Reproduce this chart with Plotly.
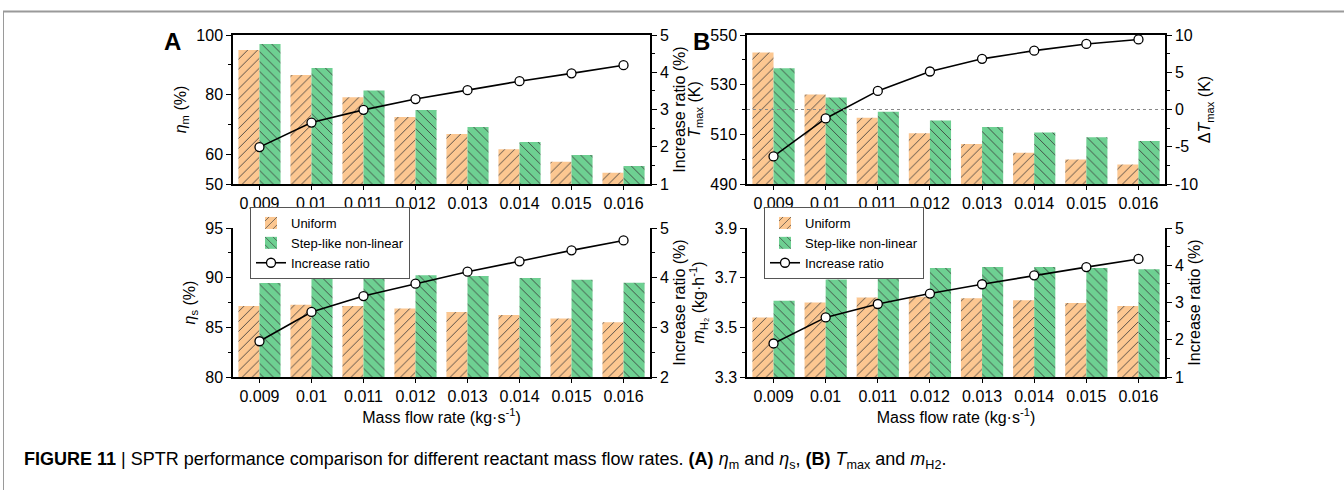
import plotly.graph_objects as go

categories = ["0.009", "0.01", "0.011", "0.012", "0.013", "0.014", "0.015", "0.016"]

# Panel A top: eta_m (%)
eta_m_uniform = [95.0, 86.6, 79.1, 72.5, 66.8, 61.7, 57.5, 53.8]
eta_m_step = [97.0, 88.9, 81.4, 74.8, 69.1, 64.1, 59.7, 56.0]
eta_m_ratio = [1.99, 2.65, 2.99, 3.28, 3.52, 3.76, 3.97, 4.19]

# Panel A bottom: eta_s (%)
eta_s_uniform = [87.15, 87.28, 87.15, 86.9, 86.55, 86.24, 85.9, 85.5]
eta_s_step = [89.47, 90.17, 90.3, 90.24, 90.17, 89.97, 89.8, 89.5]
eta_s_ratio = [2.72, 3.31, 3.63, 3.88, 4.12, 4.33, 4.55, 4.75]

# Panel B top: T_max (K) and delta T_max (K)
tmax_uniform = [543.0, 526.0, 516.7, 510.4, 506.1, 502.6, 499.9, 497.9]
tmax_step = [536.6, 524.8, 519.1, 515.6, 513.0, 510.7, 508.8, 507.3]
tmax_delta = [-6.3, -1.2, 2.5, 5.1, 6.8, 7.9, 8.8, 9.4]

# Panel B bottom: m_H2 (kg/h)
mh2_uniform = [3.54, 3.60, 3.62, 3.623, 3.617, 3.609, 3.598, 3.586]
mh2_step = [3.607, 3.693, 3.726, 3.739, 3.743, 3.743, 3.739, 3.734]
mh2_ratio = [1.9, 2.6, 2.96, 3.24, 3.49, 3.73, 3.95, 4.17]

# Tick labels
delta_tickvals = [-10, -5, 0, 5, 10]
delta_ticktext = ["-10", "-5", "0", "5", "10"]

W, H = 1344, 490
FONT = "Liberation Sans, Arial, sans-serif"
ORANGE = "#FCC791"
GREEN = "#6ED092"
PAT_FG = "#3a3a3a"


def px_x(p):
    return p / W


def px_y(p):
    return 1 - p / H


xA = [px_x(233), px_x(650)]
xB = [px_x(747), px_x(1165)]
yTop = [px_y(184), px_y(35)]
yBot = [px_y(377), px_y(228)]

fig = go.Figure()


def add_panel(xa, ya_left, ya_right, uni, step, ratio, legend=None):
    show = legend is not None
    lg = legend if show else "legend"
    fig.add_trace(go.Bar(
        x=categories, y=uni, name="Uniform", xaxis=xa, yaxis=ya_left,
        marker=dict(color=ORANGE, line=dict(width=0),
                    pattern=dict(shape="/", fgcolor=PAT_FG, bgcolor=ORANGE,
                                 size=7, solidity=0.12, fillmode="replace")),
        showlegend=show, legend=lg,
    ))
    fig.add_trace(go.Bar(
        x=categories, y=step, name="Step-like non-linear", xaxis=xa, yaxis=ya_left,
        marker=dict(color=GREEN, line=dict(width=0),
                    pattern=dict(shape="\\", fgcolor=PAT_FG, bgcolor=GREEN,
                                 size=7, solidity=0.12, fillmode="replace")),
        showlegend=show, legend=lg,
    ))
    fig.add_trace(go.Scatter(
        x=categories, y=ratio, name="Increase ratio", xaxis=xa, yaxis=ya_right,
        mode="lines+markers",
        line=dict(color="black", width=1.6),
        marker=dict(symbol="circle", size=9, color="white",
                    line=dict(color="black", width=1.3)),
        showlegend=show, legend=lg,
    ))


add_panel("x", "y", "y2", eta_m_uniform, eta_m_step, eta_m_ratio)
add_panel("x2", "y3", "y4", tmax_uniform, tmax_step, tmax_delta)
add_panel("x3", "y5", "y6", eta_s_uniform, eta_s_step, eta_s_ratio, legend="legend")
add_panel("x4", "y7", "y8", mh2_uniform, mh2_step, mh2_ratio, legend="legend2")

tickfont = dict(family=FONT, size=16, color="black")
titlefont = dict(family=FONT, size=16, color="black")


def xaxis_cfg(domain, anchor, top_border, title=None):
    d = dict(domain=domain, anchor=anchor, type="category",
             showline=True, linecolor="black", linewidth=1.5,
             mirror=top_border, ticks="outside", ticklen=4, tickcolor="black",
             tickfont=tickfont, showgrid=False, zeroline=False, automargin=False)
    if title:
        d["title"] = dict(text=title, font=titlefont, standoff=8)
    return d


def yaxis_cfg(domain, anchor, rng, tickvals, minor_vals, title, side="left",
              overlaying=None, standoff=6, ticktext=None):
    d = dict(domain=domain, anchor=anchor, range=rng, side=side,
             tickvals=tickvals, showline=True, linecolor="black", linewidth=1.5,
             ticks="outside", ticklen=5, tickcolor="black", tickfont=tickfont,
             showgrid=False, zeroline=False, automargin=False,
             minor=dict(tickvals=minor_vals, ticks="outside", ticklen=3,
                        tickcolor="black", showgrid=False),
             title=dict(text=title, font=titlefont, standoff=standoff))
    if ticktext is not None:
        d["ticktext"] = ticktext
    if overlaying:
        d["overlaying"] = overlaying
    return d


ratio_title = "Increase ratio (%)"
xtitle = "Mass flow rate (kg·s<sup>-1</sup>)"
legend_style = dict(xanchor="left", yanchor="top", bgcolor="white",
                    bordercolor="#555", borderwidth=1,
                    font=dict(family=FONT, size=13, color="black"),
                    tracegroupgap=0, itemwidth=30)

fig.update_layout(
    width=W, height=H,
    margin=dict(l=0, r=0, t=0, b=0),
    paper_bgcolor="white", plot_bgcolor="white",
    barmode="group", bargap=0.19, bargroupgap=0,
    font=dict(family=FONT, color="black"),
    xaxis=xaxis_cfg(xA, "y", True),
    xaxis2=xaxis_cfg(xB, "y3", True),
    xaxis3=xaxis_cfg(xA, "y5", False, xtitle),
    xaxis4=xaxis_cfg(xB, "y7", False, xtitle),
    yaxis=yaxis_cfg(yTop, "x", [50, 100], [50, 60, 80, 100], [70, 90],
                    "<i>η</i><sub>m</sub> (%)"),
    yaxis2=yaxis_cfg(yTop, "x", [1, 5], [1, 2, 3, 4, 5], [1.5, 2.5, 3.5, 4.5],
                     ratio_title, side="right", overlaying="y"),
    yaxis3=yaxis_cfg(yTop, "x2", [490, 550], [490, 510, 530, 550], [500, 520, 540],
                     "<i>T</i><sub>max</sub> (K)"),
    yaxis4=yaxis_cfg(yTop, "x2", [-10, 10], delta_tickvals,
                     [-7.5, -2.5, 2.5, 7.5], "Δ<i>T</i><sub>max</sub> (K)",
                     side="right", overlaying="y3", standoff=2, ticktext=delta_ticktext),
    yaxis5=yaxis_cfg(yBot, "x3", [80, 95], [80, 85, 90, 95], [82.5, 87.5, 92.5],
                     "<i>η</i><sub>s</sub> (%)"),
    yaxis6=yaxis_cfg(yBot, "x3", [2, 5], [2, 3, 4, 5], [2.5, 3.5, 4.5],
                     ratio_title, side="right", overlaying="y5"),
    yaxis7=yaxis_cfg(yBot, "x4", [3.3, 3.9], [3.3, 3.5, 3.7, 3.9], [3.4, 3.6, 3.8],
                     "<i>m</i><sub>H₂</sub> (kg·h<sup>-1</sup>)"),
    yaxis8=yaxis_cfg(yBot, "x4", [1, 5], [1, 2, 3, 4, 5], [1.5, 2.5, 3.5, 4.5],
                     ratio_title, side="right", overlaying="y7"),
    legend=dict(x=px_x(250), y=px_y(207), **legend_style),
    legend2=dict(x=px_x(764), y=px_y(207), **legend_style),
)

# dotted reference line at delta T = 0
fig.add_shape(type="line", xref="x2 domain", yref="y4", x0=0, x1=1, y0=0, y1=0,
              line=dict(color="#888", width=1, dash="dot"))

# frame lines of the figure page
fig.add_shape(type="line", xref="paper", yref="paper", x0=px_x(3), x1=1,
              y0=px_y(11.5), y1=px_y(11.5), line=dict(color="#9a9a9a", width=2))
fig.add_shape(type="line", xref="paper", yref="paper", x0=px_x(3.5), x1=px_x(3.5),
              y0=px_y(11.5), y1=0, line=dict(color="#9a9a9a", width=1))

# panel letters
fig.add_annotation(text="<b>A</b>", xref="paper", yref="paper", x=px_x(173), y=px_y(41),
                   showarrow=False, font=dict(family=FONT, size=24, color="black"),
                   xanchor="center", yanchor="middle")
fig.add_annotation(text="<b>B</b>", xref="paper", yref="paper", x=px_x(701), y=px_y(41),
                   showarrow=False, font=dict(family=FONT, size=24, color="black"),
                   xanchor="center", yanchor="middle")

# caption
fig.add_annotation(
    text="<b>FIGURE 11</b> | SPTR performance comparison for different reactant mass flow rates. "
         "<b>(A)</b> <i>η</i><sub>m</sub> and <i>η</i><sub>s</sub>, "
         "<b>(B)</b> <i>T</i><sub>max</sub> and <i>m</i><sub>H2</sub>.",
    xref="paper", yref="paper", x=px_x(22), y=px_y(460), xanchor="left", yanchor="middle",
    showarrow=False, font=dict(family=FONT, size=18, color="black"))

fig.write_html("out.html")
